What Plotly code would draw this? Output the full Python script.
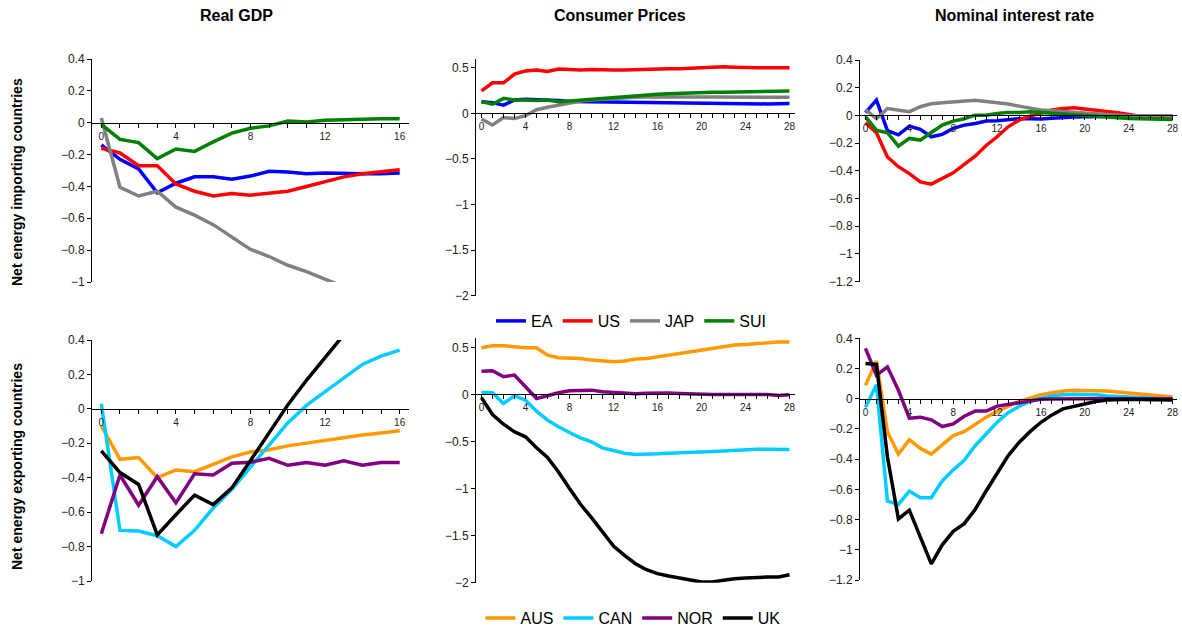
import plotly.graph_objects as go

W, H = 1182, 629

# ---------------- data ----------------
q16 = list(range(17))
q28 = list(range(29))

imp_names = ["EA", "US", "JAP", "SUI"]
exp_names = ["AUS", "CAN", "NOR", "UK"]

# Real GDP, net energy importers
gdp_EA = [-0.14, -0.23, -0.29, -0.44, -0.38, -0.34, -0.34, -0.355, -0.335, -0.305, -0.31, -0.32, -0.315, -0.32, -0.32, -0.32, -0.315]
gdp_US = [-0.16, -0.19, -0.27, -0.27, -0.385, -0.43, -0.46, -0.445, -0.455, -0.44, -0.43, -0.40, -0.37, -0.34, -0.32, -0.31, -0.295]
gdp_JAP = [0.03, -0.405, -0.46, -0.43, -0.53, -0.58, -0.64, -0.72, -0.795, -0.84, -0.895, -0.935, -0.985, -1.03, -1.07, -1.10, -1.13]
gdp_SUI = [-0.01, -0.105, -0.125, -0.225, -0.165, -0.18, -0.12, -0.065, -0.035, -0.02, 0.01, 0.005, 0.015, 0.02, 0.02, 0.025, 0.025]

# Consumer prices, net energy importers
cpi_EA = [0.128, 0.117, 0.09, 0.146, 0.153, 0.15, 0.146, 0.14, 0.13, 0.128, 0.128, 0.127, 0.125, 0.122, 0.12, 0.12, 0.117, 0.115, 0.113, 0.112, 0.11, 0.108, 0.106, 0.105, 0.103, 0.102, 0.103, 0.106, 0.108]
cpi_US = [0.245, 0.335, 0.335, 0.43, 0.465, 0.475, 0.46, 0.485, 0.48, 0.475, 0.48, 0.475, 0.475, 0.475, 0.48, 0.48, 0.485, 0.49, 0.49, 0.495, 0.505, 0.51, 0.51, 0.505, 0.5, 0.5, 0.5, 0.5, 0.5]
cpi_JAP = [-0.062, -0.128, -0.047, -0.058, -0.026, 0.04, 0.066, 0.09, 0.12, 0.135, 0.146, 0.155, 0.164, 0.17, 0.175, 0.178, 0.18, 0.18, 0.18, 0.18, 0.18, 0.18, 0.178, 0.177, 0.175, 0.175, 0.175, 0.175, 0.175]
cpi_SUI = [0.128, 0.1, 0.164, 0.146, 0.146, 0.14, 0.146, 0.128, 0.135, 0.145, 0.153, 0.165, 0.175, 0.184, 0.193, 0.2, 0.208, 0.214, 0.22, 0.225, 0.23, 0.23, 0.23, 0.234, 0.237, 0.238, 0.24, 0.242, 0.245]

# Nominal interest rate, net energy importers
ir_EA = [0.02, 0.11, -0.11, -0.14, -0.077, -0.1, -0.154, -0.137, -0.094, -0.07, -0.058, -0.041, -0.039, -0.032, -0.024, -0.024, -0.026, -0.02, -0.014, -0.012, -0.01, -0.009, -0.008, -0.007, -0.006, -0.006, -0.005, -0.005, -0.005]
ir_US = [-0.053, -0.125, -0.3, -0.37, -0.42, -0.48, -0.496, -0.455, -0.414, -0.354, -0.294, -0.217, -0.154, -0.082, -0.034, -0.005, 0.02, 0.039, 0.05, 0.055, 0.046, 0.039, 0.031, 0.02, 0.007, -0.005, -0.01, -0.013, -0.015]
ir_JAP = [0.043, -0.024, 0.05, 0.039, 0.027, 0.063, 0.084, 0.092, 0.1, 0.104, 0.11, 0.1, 0.092, 0.082, 0.067, 0.05, 0.039, 0.033, 0.027, 0.02, 0.014, 0.01, 0.006, 0.002, -0.002, -0.003, -0.003, -0.003, -0.003]
ir_SUI = [-0.01, -0.106, -0.125, -0.222, -0.166, -0.178, -0.123, -0.07, -0.041, -0.024, 0.002, 0.002, 0.014, 0.022, 0.022, 0.027, 0.022, 0.016, 0.01, 0.004, -0.002, -0.006, -0.01, -0.016, -0.022, -0.024, -0.026, -0.028, -0.029]

# Real GDP, net energy exporters
gdp_AUS = [-0.098, -0.293, -0.283, -0.4, -0.355, -0.365, -0.322, -0.279, -0.25, -0.238, -0.215, -0.199, -0.181, -0.166, -0.152, -0.14, -0.127]
gdp_CAN = [0.03, -0.706, -0.71, -0.737, -0.8, -0.706, -0.576, -0.468, -0.338, -0.209, -0.082, 0.02, 0.098, 0.18, 0.258, 0.306, 0.341]
gdp_NOR = [-0.726, -0.384, -0.56, -0.394, -0.546, -0.377, -0.384, -0.316, -0.31, -0.287, -0.328, -0.312, -0.328, -0.302, -0.328, -0.312, -0.312]
gdp_UK = [-0.244, -0.37, -0.439, -0.732, -0.615, -0.501, -0.556, -0.459, -0.3, -0.137, 0.023, 0.166, 0.302, 0.43, 0.55, 0.67, 0.78]

# Consumer prices, net energy exporters
cpi_AUS = [0.496, 0.518, 0.518, 0.504, 0.496, 0.496, 0.418, 0.39, 0.39, 0.383, 0.365, 0.355, 0.348, 0.355, 0.376, 0.383, 0.397, 0.418, 0.436, 0.454, 0.468, 0.489, 0.51, 0.525, 0.532, 0.543, 0.55, 0.557, 0.557]
cpi_CAN = [0.021, 0.018, -0.096, -0.014, -0.06, -0.177, -0.273, -0.344, -0.404, -0.461, -0.504, -0.567, -0.596, -0.624, -0.638, -0.638, -0.631, -0.624, -0.617, -0.614, -0.61, -0.605, -0.6, -0.592, -0.585, -0.583, -0.582, -0.584, -0.585]
cpi_NOR = [0.248, 0.252, 0.188, 0.206, 0.082, -0.043, -0.014, 0.018, 0.039, 0.039, 0.046, 0.028, 0.018, 0.012, 0.007, 0.012, 0.018, 0.015, 0.011, 0.005, 0.0, 0.0, 0.0, 0.0, 0.0, 0.0, 0.0, -0.01, -0.003]
cpi_UK = [-0.035, -0.213, -0.316, -0.397, -0.45, -0.567, -0.67, -0.823, -1.0, -1.167, -1.309, -1.461, -1.61, -1.709, -1.798, -1.862, -1.904, -1.929, -1.947, -1.972, -1.993, -1.993, -1.975, -1.957, -1.95, -1.943, -1.94, -1.94, -1.915]

# Nominal interest rate, net energy exporters
ir_AUS = [0.089, 0.249, -0.218, -0.367, -0.271, -0.329, -0.367, -0.307, -0.244, -0.218, -0.167, -0.122, -0.084, -0.049, -0.018, 0.004, 0.027, 0.04, 0.051, 0.056, 0.056, 0.056, 0.051, 0.044, 0.038, 0.033, 0.027, 0.018, 0.011]
ir_CAN = [-0.056, 0.093, -0.678, -0.7, -0.611, -0.656, -0.656, -0.544, -0.471, -0.407, -0.311, -0.233, -0.156, -0.093, -0.051, -0.018, 0.004, 0.018, 0.027, 0.029, 0.029, 0.027, 0.018, 0.014, 0.011, 0.008, 0.005, 0.002, 0.0]
ir_NOR = [0.333, 0.156, 0.211, 0.056, -0.129, -0.122, -0.14, -0.184, -0.167, -0.116, -0.082, -0.082, -0.049, -0.038, -0.022, -0.011, -0.004, -0.002, 0.0, 0.0, 0.0, 0.0, 0.0, 0.0, 0.0, 0.0, 0.0, 0.0, 0.0]
ir_UK = [0.233, 0.227, -0.384, -0.796, -0.738, -0.911, -1.093, -0.967, -0.878, -0.827, -0.733, -0.611, -0.489, -0.378, -0.289, -0.218, -0.156, -0.107, -0.067, -0.049, -0.036, -0.018, -0.009, -0.004, -0.004, -0.005, -0.006, -0.008, -0.009]

col_titles = ["Real GDP", "Consumer Prices", "Nominal interest rate"]
row_titles = ["Net energy importing countries", "Net energy exporting countries"]

imp_colors = ["#0000FF", "#FF0000", "#808080", "#008000"]
exp_colors = ["#FF9900", "#00CCFF", "#800080", "#000000"]

# ---------------- layout geometry (pixels) ----------------
col_px = [(92, 409), (476, 795), (860, 1177)]
row_px = {
    (0, 0): (59, 282), (0, 1): (58.6, 295.7), (0, 2): (60, 281.7),
    (1, 0): (340, 581), (1, 1): (338, 582.7), (1, 2): (338.3, 580),
}
yranges = {0: [-1, 0.4], 1: [-2, 0.6], 2: [-1.2, 0.4]}
ydticks = {0: 0.2, 1: 0.5, 2: 0.2}
xranges = {0: [-0.5, 16.5], 1: [-0.5, 28.5], 2: [-0.5, 28.4]}

panels = {
    (0, 0): (q16, [gdp_EA, gdp_US, gdp_JAP, gdp_SUI]),
    (0, 1): (q28, [cpi_EA, cpi_US, cpi_JAP, cpi_SUI]),
    (0, 2): (q28, [ir_EA, ir_US, ir_JAP, ir_SUI]),
    (1, 0): (q16, [gdp_AUS, gdp_CAN, gdp_NOR, gdp_UK]),
    (1, 1): (q28, [cpi_AUS, cpi_CAN, cpi_NOR, cpi_UK]),
    (1, 2): (q28, [ir_AUS, ir_CAN, ir_NOR, ir_UK]),
}

FONT = "Arial, Liberation Sans, sans-serif"
fig = go.Figure()
layout = {}

idx = 0
for (r, c), (xs, series) in panels.items():
    idx += 1
    xa = "x" if idx == 1 else f"x{idx}"
    ya = "y" if idx == 1 else f"y{idx}"
    names = imp_names if r == 0 else exp_names
    colors = imp_colors if r == 0 else exp_colors
    legend = "legend" if r == 0 else "legend2"
    for k, (nm, ys) in enumerate(zip(names, series)):
        fig.add_trace(go.Scatter(
            x=xs, y=ys, mode="lines", name=nm,
            line=dict(color=colors[k], width=3.5),
            xaxis=xa, yaxis=ya, legend=legend,
            showlegend=(c == 1),
        ))
    x0, x1 = col_px[c]
    ptop, pbot = row_px[(r, c)]
    ydom = [1 - pbot / H, 1 - ptop / H]
    yr = yranges[c]
    zero_pos = ydom[0] + (0 - yr[0]) / (yr[1] - yr[0]) * (ydom[1] - ydom[0])
    xkey = "xaxis" if idx == 1 else f"xaxis{idx}"
    ykey = "yaxis" if idx == 1 else f"yaxis{idx}"
    layout[xkey] = dict(
        domain=[x0 / W, x1 / W], range=xranges[c], anchor="free", position=zero_pos,
        showline=True, linecolor="black", linewidth=1, showgrid=False, zeroline=False,
        tick0=0, dtick=4, ticks="outside", ticklen=4, tickcolor="black",
        minor=dict(dtick=1, tick0=0, ticks="outside", ticklen=4, tickcolor="black"),
        tickfont=dict(family=FONT, size=10, color="#222"),
        ticklabeloverflow="allow", automargin=False,
    )
    layout[ykey] = dict(
        domain=ydom, range=yr, anchor=xa,
        showline=True, linecolor="black", linewidth=1, showgrid=False, zeroline=False,
        dtick=ydticks[c], ticks="outside", ticklen=4, tickcolor="black",
        tickfont=dict(family=FONT, size=12, color="#222"), automargin=False,
    )

fig.update_layout(**layout)

annotations = []
title_x = [236, 620, 1014]
for t, xc in zip(col_titles, title_x):
    annotations.append(dict(text=f"<b>{t}</b>", x=xc / W, y=1 - 15 / H, xref="paper", yref="paper",
                            showarrow=False, xanchor="center", yanchor="middle",
                            font=dict(family=FONT, size=16, color="black")))
for t, yc in zip(row_titles, [182, 467]):
    annotations.append(dict(text=f"<b>{t}</b>", x=17 / W, y=1 - yc / H, xref="paper", yref="paper",
                            showarrow=False, xanchor="center", yanchor="middle", textangle=-90,
                            font=dict(family=FONT, size=14, color="black")))

fig.update_layout(
    template="none",
    width=W, height=H, autosize=False,
    margin=dict(l=0, r=0, t=0, b=0, autoexpand=False),
    paper_bgcolor="white", plot_bgcolor="white",
    annotations=annotations,
    legend=dict(orientation="h", x=631 / W, y=1 - 321 / H, xanchor="center", yanchor="middle",
                font=dict(family=FONT, size=16, color="black"), bgcolor="rgba(0,0,0,0)",
                itemwidth=30, tracegroupgap=0),
    legend2=dict(orientation="h", x=633 / W, y=1 - 618 / H, xanchor="center", yanchor="middle",
                 font=dict(family=FONT, size=16, color="black"), bgcolor="rgba(0,0,0,0)",
                 itemwidth=30, tracegroupgap=0),
)

fig.write_html("out.html", config={"displayModeBar": False},
               post_script="document.body.style.margin='0';document.body.style.overflow='hidden';")
